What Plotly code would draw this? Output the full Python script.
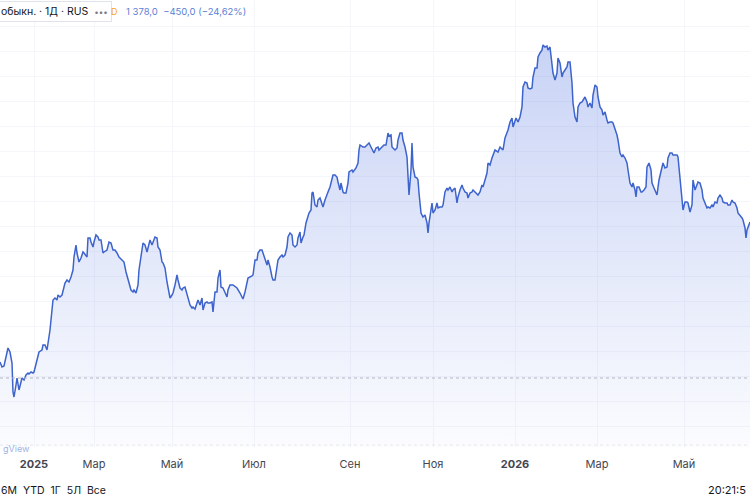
import plotly.graph_objects as go

# time position of each sampled close (chart time units) and closing price
t = [
    0, 2, 4, 6, 8, 10, 12, 13, 14, 16,
    17, 19, 21, 22, 24, 26, 28, 29, 31, 33,
    34, 36, 38, 39, 42, 43, 45, 47, 50, 53,
    55, 57, 58, 60, 62, 63, 65, 67, 69, 71,
    73, 74, 76, 77, 79, 81, 83, 84, 86, 87,
    88, 90, 91, 93, 94, 96, 98, 99, 101, 103,
    104, 107, 109, 111, 113, 115, 117, 119, 122, 124,
    126, 127, 129, 131, 133, 134, 136, 138, 139, 141,
    143, 145, 147, 148, 150, 152, 153, 155, 157, 158,
    160, 162, 163, 165, 167, 168, 170, 172, 173, 175,
    177, 178, 180, 182, 183, 185, 187, 188, 190, 192,
    193, 195, 197, 198, 200, 202, 203, 205, 207, 208,
    210, 212, 213, 215, 217, 218, 220, 221, 223, 225,
    227, 228, 230, 233, 237, 240, 243, 245, 248, 252,
    253, 255, 257, 258, 260, 262, 263, 265, 267, 268,
    270, 272, 273, 275, 277, 278, 280, 282, 283, 285,
    287, 288, 290, 292, 293, 295, 297, 298, 300, 301,
    303, 304, 306, 308, 309, 311, 312, 313, 315, 317,
    318, 320, 322, 323, 325, 327, 328, 330, 332, 333,
    335, 337, 338, 340, 341, 343, 344, 346, 348, 349,
    352, 353, 356, 358, 359, 360, 363, 365, 367, 369,
    371, 373, 374, 376, 378, 379, 381, 383, 384, 386,
    388, 389, 391, 392, 393, 395, 397, 398, 400, 402,
    403, 405, 407, 408, 409, 411, 412, 413, 415, 417,
    418, 419, 421, 423, 425, 427, 428, 429, 431, 432,
    433, 435, 437, 438, 440, 442, 443, 445, 447, 448,
    450, 452, 453, 455, 457, 458, 460, 462, 463, 465,
    467, 468, 470, 472, 473, 475, 477, 478, 480, 482,
    483, 485, 487, 488, 490, 492, 495, 498, 500, 503,
    505, 508, 510, 512, 513, 516, 518, 520, 522, 523,
    525, 527, 528, 530, 532, 533, 535, 537, 538, 540,
    542, 543, 545, 547, 548, 550, 551, 553, 555, 557,
    558, 560, 562, 563, 565, 567, 568, 570, 572, 573,
    575, 577, 578, 580, 582, 583, 585, 587, 588, 590,
    592, 593, 595, 597, 598, 600, 602, 603, 605, 607,
    608, 610, 612, 613, 615, 617, 618, 620, 622, 623,
    625, 627, 628, 630, 632, 633, 635, 636, 637, 639,
    641, 642, 644, 646, 647, 649, 651, 652, 654, 656,
    657, 659, 661, 662, 663, 665, 667, 668, 670, 672,
    673, 675, 677, 678, 680, 682, 683, 685, 687, 688,
    690, 692, 693, 695, 697, 698, 700, 702, 703, 705,
    707, 708, 710, 712, 713, 715, 717, 718, 720, 722,
    723, 725, 727, 728, 730, 732, 733, 735, 737, 738,
    740, 742, 743, 745, 746, 747, 750,
]

close = [
    1128, 1118, 1120, 1142, 1156, 1148, 1126, 1068, 1058, 1082,
    1096, 1072, 1086, 1096, 1092, 1102, 1106, 1104, 1108, 1106,
    1108, 1126, 1142, 1148, 1152, 1162, 1162, 1152, 1192, 1252,
    1256, 1252, 1262, 1258, 1262, 1272, 1286, 1292, 1288, 1298,
    1312, 1338, 1362, 1346, 1328, 1336, 1348, 1346, 1342, 1338,
    1376, 1376, 1368, 1358, 1368, 1382, 1378, 1372, 1372, 1346,
    1348, 1352, 1368, 1366, 1352, 1352, 1346, 1338, 1332, 1328,
    1308, 1300, 1288, 1272, 1268, 1272, 1266, 1282, 1312, 1342,
    1366, 1362, 1348, 1356, 1372, 1362, 1368, 1378, 1376, 1358,
    1352, 1328, 1326, 1316, 1288, 1278, 1256, 1262, 1266, 1282,
    1302, 1292, 1276, 1272, 1276, 1278, 1262, 1252, 1242, 1236,
    1238, 1234, 1246, 1252, 1242, 1256, 1232, 1246, 1248, 1246,
    1246, 1248, 1228, 1268, 1268, 1296, 1312, 1278, 1276, 1268,
    1258, 1272, 1282, 1282, 1276, 1266, 1254, 1268, 1296, 1300,
    1302, 1332, 1332, 1346, 1352, 1352, 1346, 1332, 1322, 1332,
    1318, 1298, 1292, 1292, 1318, 1332, 1338, 1342, 1338, 1342,
    1358, 1378, 1386, 1382, 1362, 1358, 1362, 1376, 1388, 1366,
    1378, 1382, 1406, 1418, 1426, 1432, 1466, 1468, 1442, 1438,
    1452, 1456, 1446, 1438, 1452, 1466, 1468, 1478, 1496, 1502,
    1502, 1498, 1488, 1472, 1486, 1468, 1466, 1466, 1486, 1508,
    1512, 1508, 1516, 1526, 1552, 1562, 1558, 1558, 1562, 1566,
    1558, 1548, 1546, 1556, 1558, 1552, 1556, 1558, 1562, 1562,
    1586, 1580, 1582, 1558, 1556, 1552, 1556, 1572, 1586, 1586,
    1572, 1558, 1538, 1486, 1462, 1512, 1566, 1518, 1498, 1496,
    1492, 1466, 1426, 1418, 1422, 1406, 1386, 1406, 1438, 1446,
    1426, 1432, 1446, 1436, 1438, 1438, 1442, 1468, 1476, 1472,
    1478, 1468, 1472, 1476, 1446, 1458, 1472, 1482, 1476, 1468,
    1466, 1456, 1466, 1468, 1472, 1468, 1466, 1462, 1468, 1482,
    1478, 1492, 1506, 1526, 1522, 1536, 1552, 1548, 1558, 1552,
    1576, 1592, 1608, 1616, 1598, 1616, 1608, 1618, 1638, 1678,
    1688, 1686, 1676, 1674, 1676, 1698, 1716, 1716, 1738, 1746,
    1752, 1762, 1758, 1760, 1752, 1758, 1738, 1706, 1692, 1706,
    1736, 1726, 1698, 1706, 1712, 1718, 1728, 1728, 1686, 1646,
    1618, 1608, 1638, 1646, 1648, 1652, 1658, 1648, 1638, 1646,
    1636, 1662, 1682, 1678, 1658, 1638, 1632, 1622, 1628, 1612,
    1606, 1608, 1608, 1606, 1596, 1582, 1572, 1546, 1538, 1542,
    1536, 1526, 1512, 1486, 1478, 1486, 1472, 1458, 1478, 1478,
    1468, 1468, 1472, 1478, 1518, 1526, 1512, 1486, 1476, 1466,
    1462, 1492, 1512, 1516, 1526, 1516, 1518, 1536, 1546, 1546,
    1542, 1542, 1542, 1538, 1492, 1438, 1432, 1448, 1448, 1446,
    1428, 1442, 1492, 1472, 1482, 1488, 1486, 1472, 1456, 1446,
    1436, 1438, 1436, 1442, 1438, 1448, 1446, 1456, 1462, 1456,
    1448, 1446, 1446, 1442, 1442, 1452, 1448, 1446, 1436, 1426,
    1422, 1416, 1412, 1396, 1376, 1392, 1408,
]

tick_pos = [34, 94, 172, 254, 350, 433, 515, 597, 684]
tick_text = ["<b>2025</b>", "Мар", "Май", "Июл", "Сен", "Ноя", "<b>2026</b>", "Мар", "Май"]

prev_close = 1096
y_range = [958, 1852]

LINE = "#3d63cc"
FONT = "Inter"

fig = go.Figure()
fig.add_trace(go.Scatter(
    x=t, y=close, mode="lines",
    line=dict(color=LINE, width=1.5),
    fill="tozeroy",
    fillgradient=dict(
        type="vertical",
        start=y_range[0], stop=1762,
        colorscale=[[0, "rgba(61,99,221,0.02)"], [1, "rgba(61,99,221,0.28)"]],
    ),
    hoverinfo="skip",
))

fig.add_shape(type="line", xref="paper", x0=0, x1=1, yref="y",
              y0=prev_close, y1=prev_close,
              line=dict(color="#b2b5be", width=1, dash="dot"))
fig.add_shape(type="line", xref="paper", x0=0, x1=1, yref="y",
              y0=962, y1=962,
              line=dict(color="#e6e8ee", width=1, dash="dot"))

fig.update_layout(
    width=750, height=500,
    margin=dict(l=0, r=0, t=0, b=53),
    paper_bgcolor="white", plot_bgcolor="white",
    showlegend=False,
    font=dict(family=FONT, size=11, color="#131722"),
    xaxis=dict(
        range=[0, 750], tickmode="array", tickvals=tick_pos, ticktext=tick_text,
        showgrid=True, gridcolor="#f5f6fa", gridwidth=1,
        zeroline=False, showline=False, ticks="",
        ticklabelstandoff=9,
        tickfont=dict(family=FONT, size=11, color="#434651"),
    ),
    yaxis=dict(
        range=y_range, dtick=50, showgrid=True, gridcolor="#f5f6fa", gridwidth=1,
        zeroline=False, showticklabels=False, ticks="",
    ),
)

# legend / header
fig.add_annotation(xref="paper", yref="paper", x=-3 / 750, y=1.0, xanchor="left", yanchor="top",
                   yshift=-1,
                   text="обыкн. · 1Д · RUS &nbsp;<span style='color:#787b86;font-size:8px'>•••</span>",
                   showarrow=False, font=dict(family=FONT, size=10.5, color="#131722"),
                   bgcolor="white", bordercolor="#e0e3eb", borderwidth=1, borderpad=3)
fig.add_annotation(xref="paper", yref="paper", x=109 / 750, y=1.0, xanchor="left", yanchor="top",
                   yshift=-4, text="D", showarrow=False,
                   font=dict(family=FONT, size=9, color="#f5a623"))
fig.add_annotation(xref="paper", yref="paper", x=124 / 750, y=1.0, xanchor="left", yanchor="top",
                   yshift=-4, text="1 378,0  −450,0 (−24,62%)", showarrow=False,
                   font=dict(family=FONT, size=9.5, color="#5b7fd6"))

# watermark (visible part)
fig.add_annotation(xref="paper", yref="paper", x=1 / 750, y=0.0, xanchor="left", yanchor="bottom",
                   yshift=-9, text="gView", showarrow=False,
                   font=dict(family=FONT, size=9, color="#9fb2e8"))

# bottom toolbar
fig.add_annotation(xref="paper", yref="paper", x=-1 / 750, y=0.0, xanchor="left", yanchor="middle",
                   yshift=-43, text="6M&nbsp;&nbsp;YTD&nbsp;&nbsp;1Г&nbsp;&nbsp;5Л&nbsp;&nbsp;Все",
                   showarrow=False, font=dict(family=FONT, size=10.5, color="#131722"))
fig.add_annotation(xref="paper", yref="paper", x=706 / 750, y=0.0, xanchor="left", yanchor="middle",
                   yshift=-43, text="20:21:5", showarrow=False,
                   font=dict(family=FONT, size=11, color="#131722"))

fig.write_html("out.html")
